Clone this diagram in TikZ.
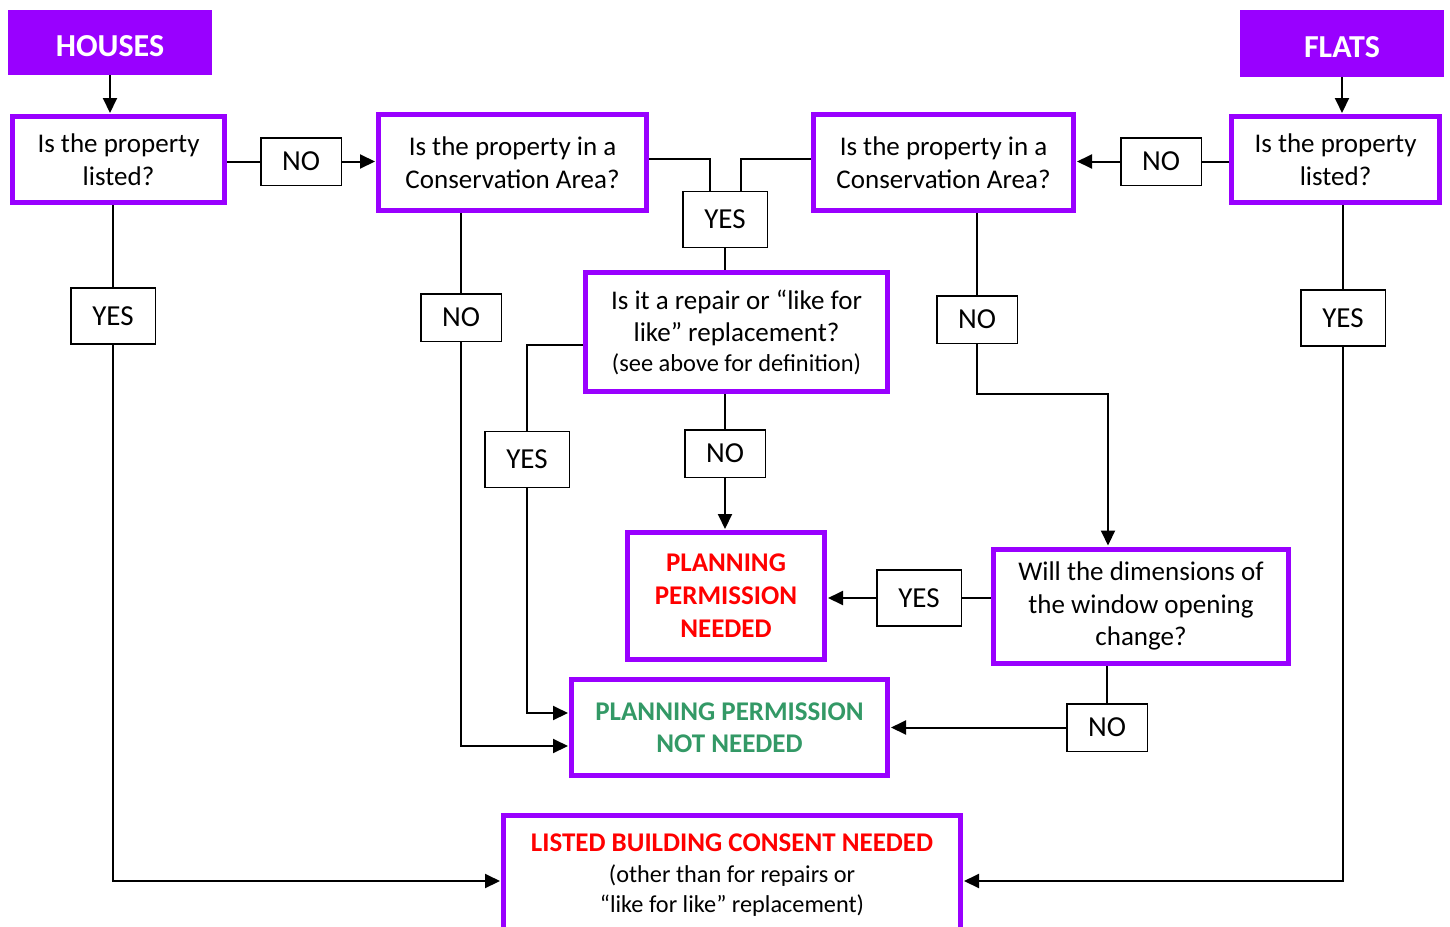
\documentclass[tikz,border=0pt]{standalone}
\usepackage{fontspec}
\setmainfont{Carlito}
\usetikzlibrary{arrows.meta,calc}
\definecolor{purp}{RGB}{153,0,255}
\definecolor{redt}{RGB}{255,0,0}
\definecolor{greent}{RGB}{51,153,102}
\begin{document}
\begin{tikzpicture}[x=1pt,y=-1pt,
  q/.style={draw=purp,line width=5pt,fill=white,align=center,inner sep=0pt,
    font=\fontsize{27}{32.5}\selectfont},
  lab/.style={draw=black,line width=1.5pt,fill=white,inner sep=0pt,
    font=\fontsize{29}{33}\selectfont,minimum width=80.5pt,minimum height=47.5pt},
  yeslab/.style={lab,minimum width=84.5pt,minimum height=56pt},
  head/.style={fill=purp,text=white,inner sep=0pt,minimum width=204pt,
    text height=27pt,text depth=0pt,
    font=\fontsize{32}{36}\selectfont\bfseries},
  ln/.style={line width=2pt},
  arr/.style={line width=2pt,-{Triangle[length=15pt,width=14pt]},shorten >=1pt}]
\clip (0,0) rectangle (1450,926);
\fill[white] (0,0) rectangle (1450,926);
% headers
\node[head,minimum height=65pt] (hh) at (110,42.5) {HOUSES};
\node[head,minimum height=67pt] (ff) at (1342,43.5) {FLATS};
% question boxes
\node[q,minimum width=212pt,minimum height=86pt] (hq) at (118.5,159.5) {Is the property\\listed?};
\node[q,minimum width=208pt,minimum height=86pt] (fq) at (1335.5,159.5) {Is the property\\listed?};
\node[q,minimum width=268pt,minimum height=96pt] (hca) at (512.5,162.5) {Is the property in a\\Conservation\ Area?};
\node[q,minimum width=260pt,minimum height=96pt] (fca) at (943.5,162.5) {Is the property in a\\Conservation Area?};
\node[q,minimum width=302pt,minimum height=119pt] (rep) at (736.5,332) {Is it a repair or “like for\\like” replacement?\\[-3pt]{\fontsize{24.4}{29}\selectfont (see above for definition)}};
\node[q,minimum width=197pt,minimum height=127pt,font=\fontsize{27}{33}\selectfont\bfseries,text=redt] (ppn) at (726,596) {PLANNING\\PERMISSION\\NEEDED};
\node[q,minimum width=295pt,minimum height=114pt] (win) at (1141,606) {Will the dimensions of\\the window opening\\change?};
\node[q,minimum width=316pt,minimum height=96pt,font=\fontsize{27}{32}\selectfont\bfseries,text=greent] (ppnn) at (729.5,727.5) {PLANNING PERMISSION\\NOT NEEDED};
\node[q,minimum width=457pt,minimum height=119pt,font=\fontsize{24.3}{29.5}\selectfont] (lbc) at (732,875) {{\fontsize{27}{31}\selectfont\bfseries\color{redt}LISTED BUILDING CONSENT NEEDED}\\[2pt](other than for repairs or\\“like for like” replacement)};
% labels
\node[lab] (hno) at (301,161.5) {NO};
\node[lab] (fno) at (1161,161.5) {NO};
\node[yeslab] (yc) at (725,219.5) {YES};
\node[yeslab] (hyes) at (113,316) {YES};
\node[lab] (hcano) at (461,317.5) {NO};
\node[lab] (fcano) at (977,319.5) {NO};
\node[yeslab] (fyes) at (1343,318) {YES};
\node[yeslab] (ryes) at (527,459.5) {YES};
\node[lab] (rno) at (725,453.5) {NO};
\node[yeslab] (wyes) at (919,598) {YES};
\node[lab] (wno) at (1107,727.5) {NO};
% helper coordinates
\coordinate (ycl) at ($(yc.north)+(-15,0)$);
\coordinate (ycr) at ($(yc.north)+(16,0)$);
\coordinate (hcaR) at ($(hca.east)+(0,-4)$);
\coordinate (fcaL) at ($(fca.west)+(0,-4)$);
\coordinate (repL) at ($(rep.west)+(0,13)$);
\coordinate (ppnnA) at ($(ppnn.west)+(0,-14.5)$);
\coordinate (ppnnB) at ($(ppnn.west)+(0,18.5)$);
\coordinate (winT) at ($(win.north)+(-33,0)$);
\coordinate (lbcL) at ($(lbc.west)+(0,6)$);
\coordinate (lbcR) at ($(lbc.east)+(0,6)$);
% connectors
\draw[arr] (hh.south) -- (hh.south |- hq.north);
\draw[arr] (ff.south) -- (ff.south |- fq.north);
\draw[ln] (hno.west) -- (hno.west -| hq.east);
\draw[arr] (hno.east) -- (hno.east -| hca.west);
\draw[ln] (fno.east) -- (fno.east -| fq.west);
\draw[arr] (fno.west) -- (fno.west -| fca.east);
\draw[ln] (hcaR) -| (ycl);
\draw[ln] (fcaL) -| (ycr);
\draw[ln] (yc.south) -- (yc.south |- rep.north);
\draw[ln] (hyes.north) -- (hyes.north |- hq.south);
\draw[arr] (hyes.south) -- (hyes.south |- lbcL) -- (lbcL);
\draw[ln] (fyes.north) -- (fyes.north |- fq.south);
\draw[arr] (fyes.south) -- (fyes.south |- lbcR) -- (lbcR);
\draw[ln] (hcano.north) -- (hcano.north |- hca.south);
\draw[arr] (hcano.south) -- (hcano.south |- ppnnB) -- (ppnnB);
\draw[ln] (repL) -| (ryes.north);
\draw[arr] (ryes.south) -- (ryes.south |- ppnnA) -- (ppnnA);
\draw[ln] (rno.north) -- (rno.north |- rep.south);
\draw[arr] (rno.south) -- (rno.south |- ppn.north);
\draw[ln] (fcano.north) -- (fcano.north |- fca.south);
\draw[arr] (fcano.south) -- ++(0,50) -| (winT);
\draw[ln] (wyes.east) -- (wyes.east -| win.west);
\draw[arr] (wyes.west) -- (wyes.west -| ppn.east);
\draw[ln] (wno.north) -- (wno.north |- win.south);
\draw[arr] (wno.west) -- (wno.west -| ppnn.east);
\end{tikzpicture}
\end{document}
